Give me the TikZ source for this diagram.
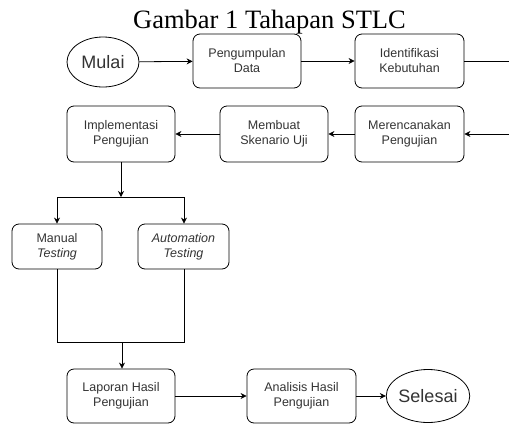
\documentclass[tikz,border=0pt]{standalone}
\usepackage{fontspec}
\setmainfont{Liberation Serif}
\setsansfont{Liberation Sans}
\usetikzlibrary{arrows.meta,shapes.geometric}
\definecolor{txt}{HTML}{333333}
\begin{document}
\begin{tikzpicture}[x=1pt,y=-1pt,
  box/.style={draw, rounded corners=7pt, line width=0.8pt, minimum width=108pt, minimum height=54pt,
    align=center, font=\sffamily\fontsize{12.5}{15}\selectfont, text=txt, inner sep=0pt},
  oval/.style={draw, ellipse, line width=0.8pt, minimum width=72pt, minimum height=50pt,
    inner sep=0pt, font=\sffamily\fontsize{18}{20}\selectfont, text=txt},
  arr/.style={-{Stealth[length=6pt,width=6pt]}, line width=0.8pt},
  ln/.style={line width=0.8pt}]
\useasboundingbox (0,0) rectangle (509,424);
\node[anchor=base, font=\fontsize{26.5}{30}\selectfont] (title) at (269.5,28) {Gambar 1 Tahapan STLC};
\node[oval] (mulai) at (103,62) {Mulai};
\node[box] (peng) at (247,61) {Pengumpulan\\Data};
\node[box, minimum width=109pt] (iden) at (409.5,61) {Identifikasi\\Kebutuhan};
\coordinate (r1) at (509,61);
\node[box, minimum height=56pt] (impl) at (121,134) {Implementasi\\Pengujian};
\node[box, minimum height=56pt] (memb) at (274,134) {Membuat\\Skenario Uji};
\node[box, minimum height=56pt, minimum width=109pt] (mere) at (409.5,134) {Merencanakan\\Pengujian};
\coordinate (r2) at (509,134);
\coordinate (split) at (121,197);
\coordinate (splitL) at (57,197);
\coordinate (splitR) at (184,197);
\node[box, minimum width=90pt, minimum height=45pt] (manual) at (57,246.5) {Manual\\\textit{Testing}};
\node[box, minimum width=91pt, minimum height=45pt] (auto) at (183.5,246.5) {\textit{Automation}\\\textit{Testing}};
\coordinate (joinL) at (57,342);
\coordinate (joinR) at (184,342);
\coordinate (join) at (122,342);
\node[box] (lap) at (121,396) {Laporan Hasil\\Pengujian};
\node[box, minimum width=109pt] (anal) at (301.5,396) {Analisis Hasil\\Pengujian};
\node[oval, minimum height=53pt] (sel) at (428,396) {Selesai};

\draw[arr] (mulai) -- (peng);
\draw[arr] (peng) -- (iden);
\draw[ln] (iden) -- (r1);
\draw[arr] (r2) -- (mere);
\draw[arr] (mere) -- (memb);
\draw[arr] (memb) -- (impl);
\draw[arr] (impl) -- (split);
\draw[ln] (splitL) -- (splitR);
\draw[arr] (splitL) -- (manual);
\draw[arr] (splitR) -- (auto.north -| splitR);
\draw[ln] (manual.south) -- (joinL) -- (joinR) -- (auto.south -| joinR);
\draw[arr] (join) -- (lap.north -| join);
\draw[arr] (lap) -- (anal);
\draw[arr] (anal) -- (sel);
\end{tikzpicture}
\end{document}
